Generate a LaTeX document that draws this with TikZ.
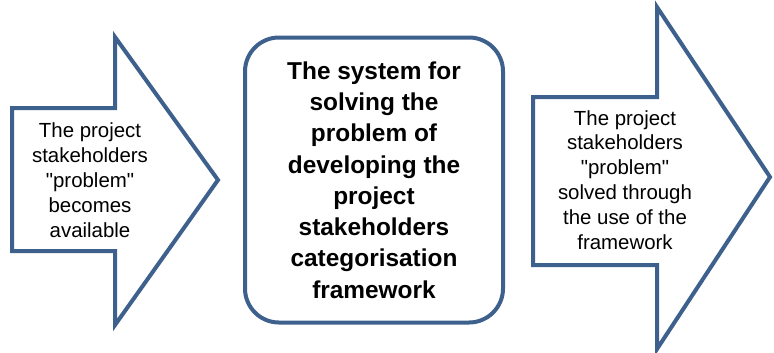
\documentclass[tikz,border=0pt]{standalone}
\usepackage{fontspec}
\setmainfont{Liberation Sans}
\newfontfamily\quotefont{Liberation Sans}
\usetikzlibrary{positioning}

\definecolor{frameblue}{RGB}{62,96,140}
\newcommand{\plainquote}[1]{{\quotefont"}#1{\quotefont"}}

\tikzset{
  flowarrow/.style={draw=frameblue,line width=4bp,fill=white,line join=miter},
  arrowtext/.style={align=center,inner sep=0pt,font=\fontsize{20.5}{25}\selectfont},
  systembox/.style={draw=frameblue,line width=4bp,rounded corners=34bp,
    minimum width=258bp,minimum height=285bp,align=center,
    font=\bfseries\fontsize{24.5}{31.4}\selectfont}
}

\begin{document}
\begin{tikzpicture}[x=1bp,y=-1bp]
\useasboundingbox (0,0) rectangle (774,352);

\draw[flowarrow] (12,108) -- (115,108) -- (115,37) -- (218,180) -- (115,325) -- (115,251) -- (12,251) -- cycle;
\node[arrowtext] (problem) at (90,180) {The project\\stakeholders\\\plainquote{problem}\\becomes\\available};

\node[systembox] (system) at (374,180) {The system for\\solving the\\problem of\\developing the\\project\\stakeholders\\categorisation\\framework};

\draw[flowarrow] (533,97) -- (657,97) -- (657,7) -- (770,177) -- (657,349) -- (657,265) -- (533,265) -- cycle;
\node[arrowtext] (solved) at (625,180) {The project\\stakeholders\\\plainquote{problem}\\solved through\\the use of the\\framework};

\end{tikzpicture}
\end{document}
